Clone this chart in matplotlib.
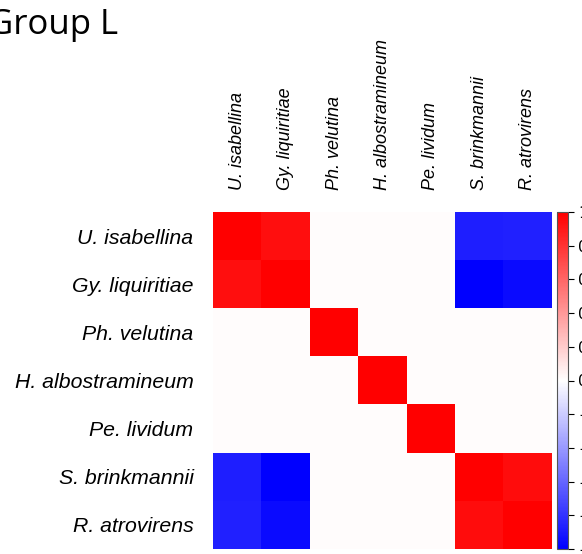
import numpy as np
import matplotlib.pyplot as plt

# species and correlation values
species = ['U. isabellina', 'Gy. liquiritiae', 'Ph. velutina', 'H. albostramineum',
           'Pe. lividum', 'S. brinkmannii', 'R. atrovirens']

corr = np.array([
    [1.00, 0.94, 0.01, 0.01, 0.01, -0.88, -0.87],
    [0.94, 1.00, 0.01, 0.01, 0.01, -1.00, -0.96],
    [0.01, 0.01, 1.00, 0.01, 0.01, 0.01, 0.01],
    [0.01, 0.01, 0.01, 1.00, 0.01, 0.01, 0.01],
    [0.01, 0.01, 0.01, 0.01, 1.00, 0.01, 0.01],
    [-0.88, -1.00, 0.01, 0.01, 0.01, 1.00, 0.95],
    [-0.87, -0.96, 0.01, 0.01, 0.01, 0.95, 1.00],
])

cbar_ticks = [1, 0.8, 0.6, 0.4, 0.2, 0, -0.2, -0.4, -0.6, -0.8, -1]

fig = plt.figure(figsize=(5.82, 5.54), dpi=100)
ax = fig.add_axes([213 / 582, 5 / 554, 339 / 582, 337 / 554])
im = ax.imshow(corr, cmap='bwr', vmin=-1, vmax=1, aspect='auto', interpolation='nearest')

ax.set_xticks(range(len(species)))
ax.set_yticks(range(len(species)))
ax.set_xticklabels(species, rotation=90, fontsize=13, fontstyle='italic',
                   family='Liberation Sans')
ax.set_yticklabels(species, fontsize=15.3, fontstyle='italic', family='Liberation Sans')
ax.xaxis.tick_top()
ax.tick_params(length=0)
ax.tick_params(axis='x', pad=16)
ax.tick_params(axis='y', pad=14)
for s in ax.spines.values():
    s.set_visible(False)

cax = fig.add_axes([557 / 582, 5 / 554, 11 / 582, 337 / 554])
cb = fig.colorbar(im, cax=cax, ticks=cbar_ticks)
cb.ax.tick_params(labelsize=11, length=4)
cb.outline.set_edgecolor('#555555')

fig.text(-0.02, 0.985, 'Group L', fontsize=25, family='Open Sans', va='top', ha='left')

fig.savefig('out.png', dpi=100)
